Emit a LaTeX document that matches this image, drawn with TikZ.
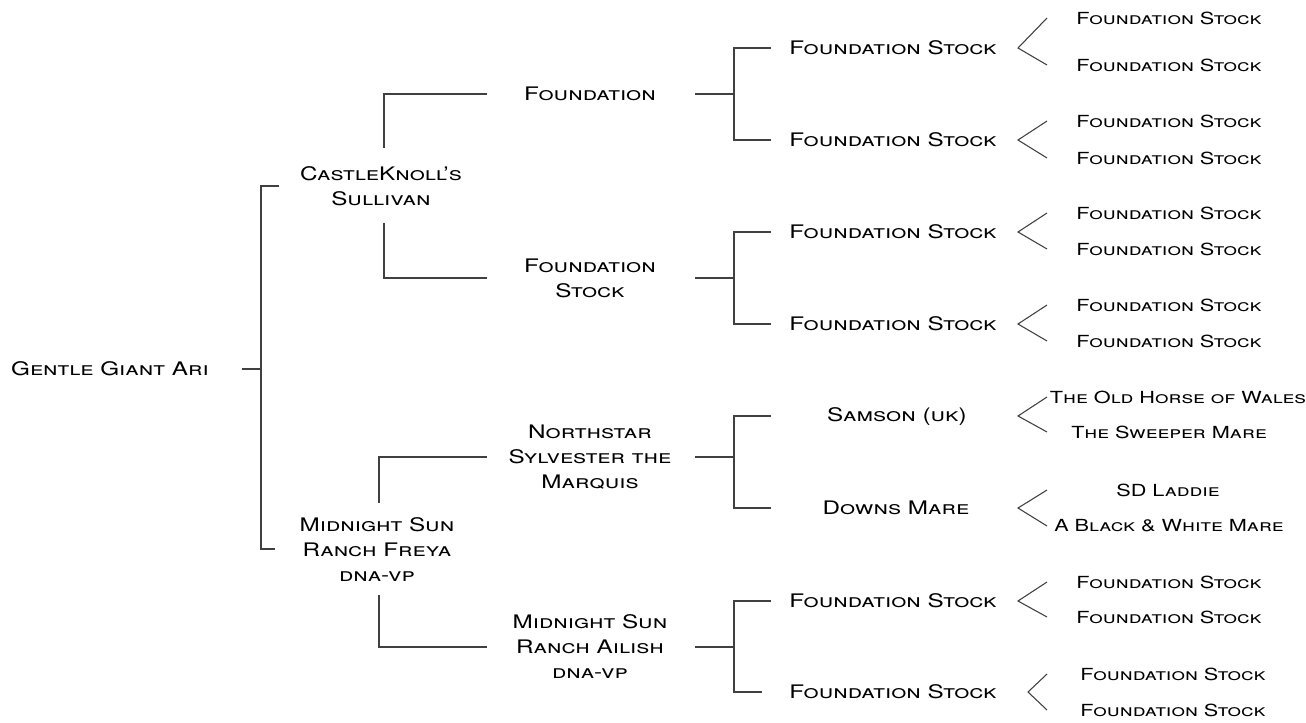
\documentclass[tikz,border=0pt]{standalone}
\usepackage{fontspec}
\setmainfont{TeX Gyre Heros}[FakeStretch=1.3]

\tikzset{
  horse/.style={font=\fontsize{14}{18.75}\selectfont\scshape, align=center, inner sep=0pt},
  anc/.style={horse, font=\fontsize{12.5}{15}\selectfont\scshape},
  link/.style={draw=black!75, line width=0.8pt}
}

\begin{document}
\begin{tikzpicture}[x=0.75pt,y=-0.75pt]
  \path[fill=white,use as bounding box] (0,0) rectangle (1306,722);

  % horse and sire / dam
  \node[horse] (ari) at (110,369) {Gentle Giant Ari};
  \node[horse] (sul) at (381,186) {CastleKnoll's\\Sullivan};
  \node[horse] (fre) at (377,550) {Midnight Sun\\Ranch Freya\\dna-vp};

  % grandparents
  \node[horse] (fnd) at (590,94) {Foundation};
  \node[horse] (fst) at (590,278) {Foundation\\Stock};
  \node[horse] (nor) at (590,457) {Northstar\\Sylvester the\\Marquis};
  \node[horse] (ail) at (590,647) {Midnight Sun\\Ranch Ailish\\dna-vp};

  % great grandparents
  \node[horse] (s1) at (893,48) {Foundation Stock};
  \node[horse] (s2) at (893,140) {Foundation Stock};
  \node[horse] (s3) at (893,232) {Foundation Stock};
  \node[horse] (s4) at (893,324) {Foundation Stock};
  \node[horse] (sam) at (897,416) {Samson (uk)};
  \node[horse] (dow) at (896,508) {Downs Mare};
  \node[horse] (s7) at (893,601) {Foundation Stock};
  \node[horse] (s8) at (893,692) {Foundation Stock};

  % great great grandparents
  \foreach \n/\x/\y/\txt in {
      g1/1169/18/Foundation Stock, g2/1169/65/Foundation Stock,
      g3/1169/121/Foundation Stock, g4/1169/158/Foundation Stock,
      g5/1169/213/Foundation Stock, g6/1169/249/Foundation Stock,
      g7/1169/305/Foundation Stock, g8/1169/341/Foundation Stock,
      g9/1178/397/The Old Horse of Wales, g10/1169/432/The Sweeper Mare,
      g11/1168/490/SD Laddie, g12/1169/526/A Black \& White Mare,
      g13/1169/582/Foundation Stock, g14/1169/617/Foundation Stock,
      g15/1173/674/Foundation Stock, g16/1173/710/Foundation Stock}
    \node[anc] (\n) at (\x,\y) {\txt};

  % brackets
  \draw[link] (242,0 |- ari) -- (261,0 |- ari);
  \draw[link] (279,0 |- sul) -| (261,549) -- (275,549);
  \draw[link] (384,148) |- (487,0 |- fnd);
  \draw[link] (384,223) |- (487,0 |- fst);
  \draw[link] (379,503) |- (487,0 |- nor);
  \draw[link] (379,595) |- (487,0 |- ail);
  \foreach \p/\a/\b/\e in {fnd/s1/s2/771, fst/s3/s4/771, nor/sam/dow/771, ail/s7/s8/762} {
    \draw[link] (695,0 |- \p) -- (734,0 |- \p);
    \draw[link] (771,0 |- \a) -| (734,0 |- \b) -- (\e,0 |- \b);
  }

  % forks
  \foreach \p/\a/\b/\t in {s1/g1/g2/1018, s2/g3/g4/1018, s3/g5/g6/1018,
      s4/g7/g8/1018, sam/g9/g10/1018, dow/g11/g12/1018, s7/g13/g14/1018,
      s8/g15/g16/1028}
    \draw[link] (1047,0 |- \a) -- (\t,0 |- \p) -- (1047,0 |- \b);
\end{tikzpicture}
\end{document}
